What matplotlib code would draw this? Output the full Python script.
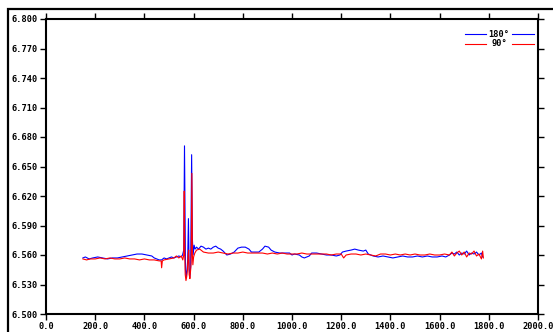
import matplotlib
matplotlib.use('Agg')
from matplotlib import pyplot as plt
from matplotlib.patches import Rectangle
from matplotlib.ticker import FormatStrFormatter

# blue trace (180 deg)
x_180 = [150, 160, 175, 190, 210, 230, 250, 270, 290, 310, 330, 350, 370, 390, 410, 430, 440, 450, 460, 470,
         480, 490, 500, 510, 520, 530, 540, 550, 555, 560, 563, 565, 567, 570, 573, 576, 579, 582, 585, 588,
         592, 595, 598, 602, 606, 612, 620, 630, 640, 650, 660, 670, 680, 690, 700, 710, 720, 735, 750, 765,
         780, 795, 810, 825, 835, 850, 865, 880, 890, 905, 915, 930, 950, 970, 990, 1000, 1010, 1030, 1040, 1050,
         1060, 1070, 1080, 1100, 1120, 1140, 1160, 1180, 1195, 1205, 1220, 1240, 1255, 1270, 1290, 1300, 1310, 1330, 1350, 1370,
         1390, 1410, 1430, 1450, 1470, 1490, 1510, 1530, 1550, 1570, 1590, 1610, 1625, 1640, 1650, 1660, 1670, 1680, 1690, 1700,
         1710, 1720, 1730, 1740, 1750, 1760, 1770, 1775]
y_180 = [6.557, 6.558, 6.556, 6.557, 6.558, 6.557, 6.556, 6.557, 6.557, 6.558, 6.559, 6.560, 6.561, 6.561, 6.560, 6.559, 6.557, 6.556, 6.555, 6.555,
         6.557, 6.556, 6.557, 6.558, 6.557, 6.558, 6.559, 6.558, 6.560, 6.565, 6.671, 6.600, 6.545, 6.537, 6.545, 6.555, 6.597, 6.545, 6.538, 6.548,
         6.662, 6.577, 6.560, 6.570, 6.566, 6.568, 6.566, 6.569, 6.568, 6.566, 6.567, 6.566, 6.568, 6.569, 6.567, 6.566, 6.564, 6.560, 6.561, 6.563,
         6.567, 6.568, 6.568, 6.566, 6.563, 6.563, 6.563, 6.566, 6.569, 6.568, 6.565, 6.563, 6.562, 6.562, 6.562, 6.560, 6.561, 6.560, 6.558, 6.557,
         6.558, 6.559, 6.562, 6.562, 6.561, 6.560, 6.560, 6.559, 6.560, 6.563, 6.564, 6.565, 6.566, 6.565, 6.564, 6.565, 6.561, 6.559, 6.558, 6.559,
         6.558, 6.557, 6.558, 6.559, 6.558, 6.558, 6.559, 6.558, 6.559, 6.558, 6.558, 6.559, 6.558, 6.560, 6.562, 6.561, 6.563, 6.560, 6.562, 6.561,
         6.564, 6.560, 6.562, 6.561, 6.563, 6.560, 6.562, 6.558]

# red trace (90 deg)
x_90 = [150, 165, 180, 200, 220, 240, 260, 280, 300, 320, 340, 360, 380, 400, 420, 440, 460, 468, 470, 473,
        480, 500, 520, 530, 540, 550, 556, 560, 562, 564, 566, 569, 572, 575, 578, 580, 582, 585, 588, 590,
        593, 595, 597, 600, 605, 612, 625, 640, 660, 680, 700, 720, 740, 760, 780, 800, 820, 840, 860, 880,
        900, 920, 940, 960, 980, 1000, 1020, 1040, 1060, 1080, 1100, 1120, 1140, 1160, 1180, 1200, 1210, 1220, 1240, 1260,
        1280, 1300, 1320, 1340, 1360, 1380, 1400, 1420, 1440, 1460, 1480, 1500, 1520, 1540, 1560, 1580, 1600, 1620, 1640, 1650,
        1660, 1670, 1680, 1690, 1700, 1710, 1720, 1730, 1740, 1750, 1760, 1770, 1775, 1778]
y_90 = [6.556, 6.555, 6.556, 6.556, 6.557, 6.556, 6.557, 6.556, 6.556, 6.557, 6.556, 6.556, 6.555, 6.556, 6.555, 6.555, 6.554, 6.554, 6.547, 6.554,
        6.555, 6.556, 6.557, 6.559, 6.557, 6.559, 6.555, 6.560, 6.625, 6.560, 6.540, 6.534, 6.538, 6.545, 6.560, 6.565, 6.540, 6.536, 6.545, 6.552,
        6.643, 6.560, 6.550, 6.558, 6.562, 6.565, 6.566, 6.563, 6.562, 6.562, 6.563, 6.562, 6.561, 6.562, 6.562, 6.563, 6.562, 6.562, 6.562, 6.562,
        6.561, 6.562, 6.561, 6.562, 6.561, 6.561, 6.561, 6.562, 6.561, 6.561, 6.561, 6.561, 6.561, 6.560, 6.561, 6.561, 6.557, 6.560, 6.561, 6.561,
        6.560, 6.561, 6.560, 6.559, 6.561, 6.561, 6.560, 6.561, 6.560, 6.561, 6.560, 6.561, 6.560, 6.560, 6.561, 6.560, 6.560, 6.561, 6.560, 6.563,
        6.559, 6.562, 6.564, 6.560, 6.563, 6.558, 6.562, 6.561, 6.564, 6.559, 6.561, 6.556, 6.564, 6.557]

labels = ["180\u00b0", "90\u00b0"]
x_ticks = [0, 200, 400, 600, 800, 1000, 1200, 1400, 1600, 1800, 2000]
y_ticks = [6.500, 6.530, 6.560, 6.590, 6.620, 6.650, 6.680, 6.710, 6.740, 6.770, 6.800]

W, H = 553, 332
fig = plt.figure(figsize=(W / 100, H / 100), dpi=100)
ax = fig.add_axes([46 / W, 1 - 314 / H, 492 / W, 295 / H])

ax.plot(x_180, y_180, color='#0000ff', lw=0.8)
ax.plot(x_90, y_90, color='#ff0000', lw=0.8)

ax.set_xlim(0, 2000)
ax.set_ylim(6.5, 6.8)
ax.set_xticks(x_ticks)
ax.set_yticks(y_ticks)
ax.xaxis.set_major_formatter(FormatStrFormatter('%.1f'))
ax.yaxis.set_major_formatter(FormatStrFormatter('%.3f'))
ax.tick_params(direction='out', length=4, width=1.0, top=True, right=True, pad=2)
for lab in ax.get_xticklabels() + ax.get_yticklabels():
    lab.set_family('DejaVu Sans Mono')
    lab.set_fontweight('bold')
    lab.set_fontsize(6.2)
for s in ax.spines.values():
    s.set_linewidth(1.5)

# legend: line on both sides of the label
cols = ['#0000ff', '#ff0000']
ys = [0.949, 0.916]
for lab, c, yy in zip(labels, cols, ys):
    ax.plot([0.852, 0.894], [yy, yy], color=c, lw=0.8, transform=ax.transAxes)
    ax.plot([0.947, 0.992], [yy, yy], color=c, lw=0.8, transform=ax.transAxes)
    ax.text(0.921, yy, lab, transform=ax.transAxes, ha='center', va='center',
            family='DejaVu Sans Mono', fontweight='bold', fontsize=6.2)

# outer frame
fig.patches.append(Rectangle((8 / W, -0.2), 1.2, 1.2 - 9 / H, transform=fig.transFigure,
                             fill=False, edgecolor='black', lw=1.6))

fig.savefig('out.png', dpi=100)
